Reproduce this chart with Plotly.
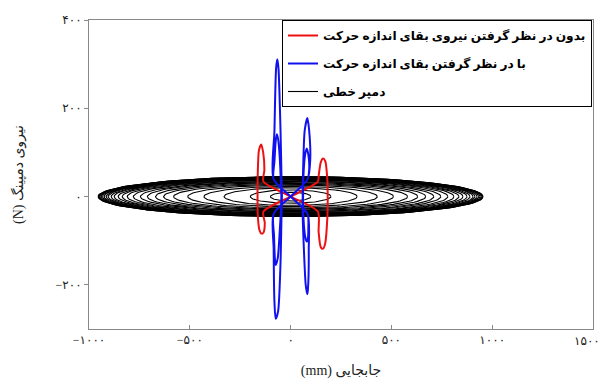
import numpy as np
import plotly.graph_objects as go

# ---- data ----
# linear damper: concentric ellipses (x amplitude in mm, force amplitude in N)
lin_amp_x = [100, 200, 330, 430, 510, 580, 630, 670, 710, 745, 780, 810, 835, 855, 875,
             890, 905, 915, 925, 933, 940, 946, 950, 953, 955]
lin_amp_f = [10, 15, 20, 23, 26, 28, 30, 32, 34, 35, 37, 38, 39, 40, 41,
             41, 42, 42, 43, 43, 44, 44, 45, 45, 45]

# without momentum conservation (red) path keypoints
red_x = [-135, 0, 135, 139, 150, 161, 172, 182, 184, 182, 172, 161, 150, 140, 135,
         0, -135, -128, -135, -144, -155, -163, -164, -163, -157, -146, -136, -130, -135]
red_y = [34, 0, -34, -80, -115, -118, -105, -50, 0, 40, 80, 86, 78, 50, 34,
         0, -34, -60, -82, -84, -75, -40, 0, 50, 105, 118, 100, 60, 34]

# with momentum conservation (blue) path keypoints (two cycles)
blue_x = [-84, 0, 84, 90, 86, 83, 75, 66, 60, 60, 62, 70, 83, 92, 97, 84,
          0, -84, -84, -80, -74, -62, -50, -45, -43, -45, -50, -60, -66, -72, -80, -84,
          0, 84, 88, 84, 80, 72, 64, 62, 64, 72, 80, 88, 92, 84,
          0, -84, -82, -78, -74, -64, -54, -48, -46, -48, -54, -62, -68, -74, -80, -84]
blue_y = [39, 0, -39, -120, -210, -221, -200, -120, -40, 0, 60, 150, 178, 150, 80, 39,
          0, -39, -120, -240, -277, -260, -150, -40, 0, 40, 150, 290, 311, 290, 150, 39,
          0, -39, -70, -100, -102, -90, -50, 0, 50, 95, 109, 95, 60, 39,
          0, -39, -90, -140, -155, -140, -80, -30, 0, 30, 90, 130, 141, 125, 80, 39]

x_tickvals = [-1000, -500, 0, 500, 1000, 1500]
x_ticktext = ["−۱۰۰۰", "−۵۰۰", "۰", "۵۰۰", "۱۰۰۰", "۱۵۰۰"]
y_tickvals = [-200, 0, 200, 400]
y_ticktext = ["−۲۰۰", "۰", "۲۰۰", "۴۰۰"]

names = ["بدون در نظر گرفتن نیروی بقای اندازه حرکت",
         "با در نظر گرفتن بقای اندازه حرکت",
         "دمپر خطی"]

# ---- build ellipse polyline for linear damper ----
t = np.linspace(0, 2 * np.pi, 121)
ex, ey = [], []
for ax_, af_ in zip(lin_amp_x, lin_amp_f):
    ex += list(ax_ * np.cos(t)) + [None]
    ey += list(af_ * np.sin(t)) + [None]

FONT = "Liberation Serif, DejaVu Sans, serif"
TICKFONT = dict(family=FONT, size=12, color="#222222")

fig = go.Figure()
fig.add_trace(go.Scatter(x=ex, y=ey, mode="lines", name=names[2],
                         line=dict(color="black", width=1.1), legendrank=3,
                         legendgroup="c"))
fig.add_trace(go.Scatter(x=red_x, y=red_y, mode="lines", name=names[0],
                         line=dict(color="#ee1111", width=2, shape="spline", smoothing=0.7),
                         legendrank=1, legendgroup="a"))
fig.add_trace(go.Scatter(x=blue_x, y=blue_y, mode="lines", name=names[1],
                         line=dict(color="#1111ee", width=2, shape="spline", smoothing=0.7),
                         legendrank=2, legendgroup="b"))

axis_common = dict(showgrid=False, zeroline=False, showline=True, linecolor="#888888",
                   linewidth=1, mirror=True, ticklen=4, tickcolor="#888888",
                   tickfont=TICKFONT)

# last x tick label is drawn right-aligned at its tick so it stays inside the page
fig.update_xaxes(range=[-1000, 1500], tickvals=x_tickvals,
                 ticktext=x_ticktext[:-1] + [""],
                 ticks="inside",
                 title=dict(text="(mm) جابجایی", font=dict(family=FONT, size=14, color="#222222"),
                            standoff=18),
                 **axis_common)
fig.add_annotation(x=x_tickvals[-1], xref="x", y=0, yref="paper", text=x_ticktext[-1],
                   showarrow=False, xanchor="right", yanchor="top", xshift=9, yshift=-3,
                   font=TICKFONT)
fig.update_yaxes(range=[-300, 400], tickvals=y_tickvals, ticktext=y_ticktext,
                 ticks="outside",
                 title=dict(text="(N) نیروی دمپینگ", font=dict(family=FONT, size=14, color="#222222"),
                            standoff=28),
                 **axis_common)

fig.update_layout(
    width=604, height=385,
    margin=dict(l=89, r=11, t=20, b=56, autoexpand=False),
    plot_bgcolor="white", paper_bgcolor="white",
    showlegend=True,
    legend=dict(x=0.998, y=1.0, xanchor="right", yanchor="top",
                bgcolor="white", bordercolor="black", borderwidth=1,
                font=dict(family=FONT, size=12.2, color="black", weight="bold"),
                traceorder="grouped", tracegroupgap=9),
)

fig.write_html("out.html")
